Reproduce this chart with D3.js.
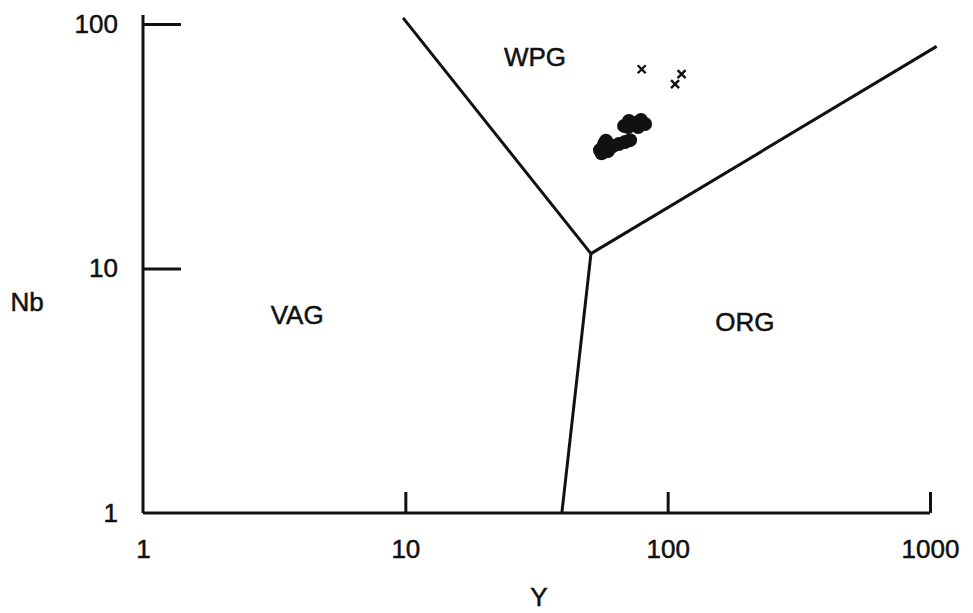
<!DOCTYPE html>
<html>
<head>
<meta charset="utf-8">
<script src="https://cdn.jsdelivr.net/npm/d3@7"></script>
<style>
  body { margin: 0; background: #fff; }
  text { font-family: "Liberation Sans", Arial, sans-serif; fill: #111; stroke: #111; stroke-width: 0.5px; }
</style>
</head>
<body>
<div id="chart"></div>
<script>
// axis ticks
var xTicks = [1, 10, 100, 1000]
var yTicks = [1, 10, 100]

// field boundaries (Y, Nb)
var boundaryWpgVag = [[51, 11.5], [9.8, 106]]
var boundaryVagOrg = [[51, 11.5], [39.5, 1]]
var boundaryWpgOrg = [[51, 11.5], [1060, 81]]

// field labels
var fieldNames = ['WPG', 'VAG', 'ORG']
var fieldY = [31.2, 3.87, 197]
var fieldNb = [73.3, 6.45, 6.04]

// samples, filled dots
var dotY = [55.2, 56.0, 57.2, 58.2, 59.2, 61.9, 65.2, 68.8, 71.9, 68.2, 71.2, 75.1, 79.1, 82.0, 77.1, 70.6]
var dotNb = [30.5, 29.6, 32.3, 33.3, 30.2, 31.7, 32.3, 32.9, 33.5, 38.3, 40.1, 39.4, 40.5, 39.0, 37.9, 37.9]

// samples, crosses
var crossY = [79.6, 113, 106.7]
var crossNb = [65.3, 62.4, 56.8]

var width = 973
var height = 613

var svg = d3.select('#chart')
  .append('svg')
  .attr('width', width)
  .attr('height', height)

var x = d3.scaleLog().domain([1, 1000]).range([143, 930])
var y = d3.scaleLog().domain([1, 100]).range([513, 24])

var ink = '#111'

// axis frame lines
svg.append('line')
  .attr('x1', x(1)).attr('x2', x(1))
  .attr('y1', y(100) - 9).attr('y2', y(1))
  .attr('stroke', ink).attr('stroke-width', 3)
svg.append('line')
  .attr('x1', x(1)).attr('x2', x(1000))
  .attr('y1', y(1)).attr('y2', y(1))
  .attr('stroke', ink).attr('stroke-width', 3)

// y axis: ticks point inwards
var yAxis = svg.append('g')
  .attr('transform', 'translate(' + x(1) + ',0)')
  .call(d3.axisLeft(y).tickValues(yTicks).tickFormat(d3.format('d'))
    .tickSizeInner(-38).tickSizeOuter(0).tickPadding(25))
yAxis.select('.domain').remove()
yAxis.selectAll('.tick line').attr('stroke', ink).attr('stroke-width', 3)
  .filter(function (d) { return d == 1 }).remove()
yAxis.selectAll('.tick text').attr('font-size', 26).attr('font-family', null).attr('fill', ink)

// x axis
var xAxis = svg.append('g')
  .attr('transform', 'translate(0,' + y(1) + ')')
  .call(d3.axisBottom(x).tickValues(xTicks).tickFormat(d3.format('d'))
    .tickSizeInner(-21).tickSizeOuter(0).tickPadding(27))
xAxis.select('.domain').remove()
xAxis.selectAll('.tick line').attr('stroke', ink).attr('stroke-width', 3)
  .filter(function (d) { return d == 1 }).remove()
xAxis.selectAll('.tick text').attr('font-size', 26).attr('font-family', null).attr('fill', ink)

// axis titles
svg.append('text')
  .attr('x', 539).attr('y', 606)
  .attr('text-anchor', 'middle').attr('font-size', 26)
  .text('Y')
svg.append('text')
  .attr('x', 27).attr('y', 311)
  .attr('text-anchor', 'middle').attr('font-size', 26)
  .text('Nb')

// boundaries
var line = d3.line().x(function (d) { return x(d[0]) }).y(function (d) { return y(d[1]) })
;[boundaryWpgVag, boundaryVagOrg, boundaryWpgOrg].forEach(function (b) {
  svg.append('path')
    .attr('d', line(b))
    .attr('fill', 'none')
    .attr('stroke', ink)
    .attr('stroke-width', 3)
})

// field labels
svg.selectAll('.field')
  .data(fieldNames)
  .enter()
  .append('text')
  .attr('x', function (d, i) { return x(fieldY[i]) })
  .attr('y', function (d, i) { return y(fieldNb[i]) })
  .attr('text-anchor', 'middle')
  .attr('dy', '0.36em')
  .attr('font-size', 26)
  .text(function (d) { return d })

// dots
svg.selectAll('.dot')
  .data(dotY)
  .enter()
  .append('circle')
  .attr('cx', function (d) { return x(d) })
  .attr('cy', function (d, i) { return y(dotNb[i]) })
  .attr('r', 7)
  .attr('fill', ink)

// crosses
svg.selectAll('.cross')
  .data(crossY)
  .enter()
  .append('path')
  .attr('d', function (d, i) {
    var cx = x(d), cy = y(crossNb[i]), s = 4
    return 'M' + (cx - s) + ',' + (cy - s) + 'L' + (cx + s) + ',' + (cy + s) +
      'M' + (cx - s) + ',' + (cy + s) + 'L' + (cx + s) + ',' + (cy - s)
  })
  .attr('stroke', ink)
  .attr('stroke-width', 2.4)
  .attr('fill', 'none')
</script>
</body>
</html>
